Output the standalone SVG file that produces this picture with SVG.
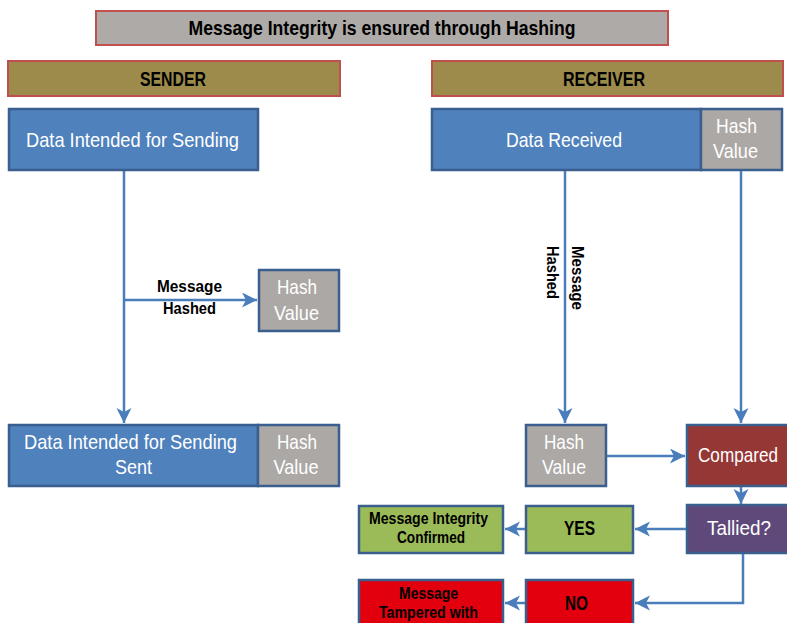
<svg xmlns="http://www.w3.org/2000/svg" width="787" height="623" viewBox="0 0 787 623">
<defs>
<marker id="arr" markerUnits="userSpaceOnUse" markerWidth="16" markerHeight="16" refX="15" refY="7.5" orient="auto">
<path d="M0,0 L15,7.5 L0,15 L4,7.5 Z" fill="#4a7ebb"/>
</marker>
</defs>
<style>
.box{stroke:#3a5f8f;stroke-width:2.5}
.blue{fill:#4f81bd}
.gray{fill:#aca8a5}
.head{fill:#9d8b4b;stroke:#c0504d;stroke-width:2}
.title{fill:#aeaaa7;stroke:#c0504d;stroke-width:2}
.w{fill:#ffffff;font-family:"Liberation Sans",Arial,sans-serif;font-size:21px;text-anchor:middle}
.b{fill:#000000;font-family:"Liberation Sans",Arial,sans-serif;font-weight:bold;text-anchor:middle}
.conn{fill:none;stroke:#4a7ebb;stroke-width:2.5}
</style>
<g id="title">
<rect class="title" x="96" y="11" width="572" height="34"/>
<text class="b" x="382" y="35" font-size="21" textLength="387" lengthAdjust="spacingAndGlyphs">Message Integrity is ensured through Hashing</text>
</g>
<g id="sender">
<rect class="head" x="8" y="61" width="332" height="35"/>
<text class="b" x="173" y="86" font-size="20" textLength="66" lengthAdjust="spacingAndGlyphs">SENDER</text>
</g>
<g id="receiver">
<rect class="head" x="432" y="61" width="351" height="35"/>
<text class="b" x="604" y="86" font-size="20" textLength="82" lengthAdjust="spacingAndGlyphs">RECEIVER</text>
</g>
<g id="data-sending">
<rect class="box blue" x="9" y="109" width="249" height="61"/>
<text class="w" x="132.5" y="147" textLength="213" lengthAdjust="spacingAndGlyphs">Data Intended for Sending</text>
</g>
<g id="data-received">
<rect class="box blue" x="432" y="109" width="269" height="61"/>
<text class="w" x="564" y="147" textLength="116" lengthAdjust="spacingAndGlyphs">Data Received</text>
</g>
<g id="recv-hash-top">
<rect class="box gray" x="701" y="109" width="81" height="61"/>
<text class="w" x="736.5" y="133" textLength="41" lengthAdjust="spacingAndGlyphs">Hash</text>
<text class="w" x="735.5" y="158" textLength="45" lengthAdjust="spacingAndGlyphs">Value</text>
</g>
<g id="sender-hash">
<rect class="box gray" x="259" y="270" width="80" height="61"/>
<text class="w" x="297" y="294" textLength="40" lengthAdjust="spacingAndGlyphs">Hash</text>
<text class="w" x="296.5" y="320" textLength="45" lengthAdjust="spacingAndGlyphs">Value</text>
</g>
<g id="data-sent">
<rect class="box blue" x="9" y="425" width="249" height="61"/>
<text class="w" x="130.5" y="449" textLength="213" lengthAdjust="spacingAndGlyphs">Data Intended for Sending</text>
<text class="w" x="133.5" y="474" textLength="37" lengthAdjust="spacingAndGlyphs">Sent</text>
</g>
<g id="sent-hash">
<rect class="box gray" x="258" y="425" width="81" height="61"/>
<text class="w" x="297" y="449" textLength="40" lengthAdjust="spacingAndGlyphs">Hash</text>
<text class="w" x="296" y="474" textLength="45" lengthAdjust="spacingAndGlyphs">Value</text>
</g>
<g id="recv-hash">
<rect class="box gray" x="526" y="425" width="80" height="61"/>
<text class="w" x="564" y="449" textLength="40" lengthAdjust="spacingAndGlyphs">Hash</text>
<text class="w" x="564" y="474" textLength="44" lengthAdjust="spacingAndGlyphs">Value</text>
</g>
<g id="compared">
<rect class="box" fill="#953735" x="687" y="425" width="105" height="61"/>
<text class="w" x="738" y="462" textLength="80" lengthAdjust="spacingAndGlyphs">Compared</text>
</g>
<g id="tallied">
<rect class="box" fill="#5f497a" x="687" y="505" width="105" height="48"/>
<text class="w" x="739" y="535" textLength="64" lengthAdjust="spacingAndGlyphs">Tallied?</text>
</g>
<g id="yes">
<rect class="box" fill="#9bbb59" x="526" y="506" width="107" height="47"/>
<text class="b" x="579.5" y="535" font-size="21" textLength="31" lengthAdjust="spacingAndGlyphs">YES</text>
</g>
<g id="confirmed">
<rect class="box" fill="#9bbb59" x="359" y="506" width="144" height="47"/>
<text class="b" x="428.5" y="524" font-size="16" textLength="119" lengthAdjust="spacingAndGlyphs">Message Integrity</text>
<text class="b" x="431" y="543" font-size="16" textLength="68" lengthAdjust="spacingAndGlyphs">Confirmed</text>
</g>
<g id="no">
<rect class="box" fill="#e2000f" x="526" y="580" width="107" height="50"/>
<text class="b" x="576.5" y="610" font-size="21" textLength="23" lengthAdjust="spacingAndGlyphs">NO</text>
</g>
<g id="tampered">
<rect class="box" fill="#e2000f" x="359" y="580" width="144" height="50"/>
<text class="b" x="428.5" y="599" font-size="16" textLength="59" lengthAdjust="spacingAndGlyphs">Message</text>
<text class="b" x="428.5" y="618" font-size="16" textLength="99" lengthAdjust="spacingAndGlyphs">Tampered with</text>
</g>
<g id="connectors">
<path class="conn" d="M124,171 V423" marker-end="url(#arr)"/>
<path class="conn" d="M124,300 H257" marker-end="url(#arr)"/>
<path class="conn" d="M565,171 V423" marker-end="url(#arr)"/>
<path class="conn" d="M741,171 V423" marker-end="url(#arr)"/>
<path class="conn" d="M607,456 H685" marker-end="url(#arr)"/>
<path class="conn" d="M741,487 V504" marker-end="url(#arr)"/>
<path class="conn" d="M686,529 H635" marker-end="url(#arr)"/>
<path class="conn" d="M525,529 H505" marker-end="url(#arr)"/>
<path class="conn" d="M743,554 V603 H635" marker-end="url(#arr)"/>
<path class="conn" d="M525,603 H505" marker-end="url(#arr)"/>
<text class="b" x="189.5" y="292" font-size="17" textLength="65" lengthAdjust="spacingAndGlyphs">Message</text>
<text class="b" x="189.5" y="314" font-size="17" textLength="53" lengthAdjust="spacingAndGlyphs">Hashed</text>
<text class="b" transform="translate(572,246) rotate(90)" x="0" y="0" font-size="17" style="text-anchor:start" textLength="64" lengthAdjust="spacingAndGlyphs">Message</text>
<text class="b" transform="translate(547,246) rotate(90)" x="0" y="0" font-size="17" style="text-anchor:start" textLength="53" lengthAdjust="spacingAndGlyphs">Hashed</text>
</g>
</svg>
